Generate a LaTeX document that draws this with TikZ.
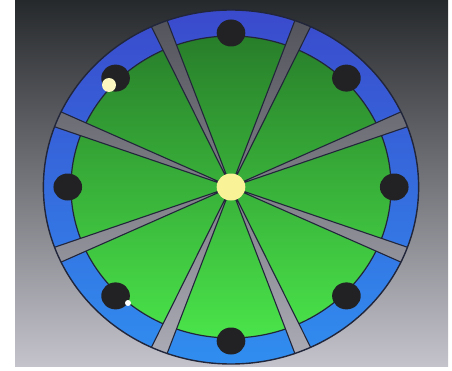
\documentclass[tikz,border=0pt]{standalone}
\definecolor{bgtop}{RGB}{38,41,44}
\definecolor{bgbottom}{RGB}{196,195,204}
\definecolor{ringtop}{RGB}{58,74,204}
\definecolor{ringbottom}{RGB}{48,142,240}
\definecolor{facetop}{RGB}{40,126,42}
\definecolor{facebottom}{RGB}{74,228,74}
\definecolor{spoketop}{RGB}{84,84,92}
\definecolor{spokebottom}{RGB}{170,170,180}
\definecolor{edge}{RGB}{34,38,58}
\definecolor{marble}{RGB}{34,34,36}
\definecolor{hub}{RGB}{250,242,150}
\begin{document}
\begin{tikzpicture}[x=1pt, y=1pt]
    \useasboundingbox (0,0) rectangle (452,370);
    \fill[white] (0,0) rectangle (452,370);
    % screen background
    \shade[top color=bgtop, bottom color=bgbottom] (15,4) rectangle (448,370);
    \begin{scope}[shift={(231,183)}, xscale=1.06]
        % blue rim
        \shade[top color=ringtop, bottom color=ringbottom] (0,0) circle(177);
        % green face
        \shade[top color=facetop, bottom color=facebottom, draw=edge, line width=1.2]
            (0,0) circle(151);
        % gray spokes between the 8 sectors
        \shade[top color=spoketop, bottom color=spokebottom]
            \foreach \a in {22.5,67.5,...,337.5} {
                (0,0) -- (\a-2.6:177) arc[start angle=\a-2.6, end angle=\a+2.6, radius=177] -- cycle};
        \draw[edge, line width=1.1]
            \foreach \a in {22.5,67.5,...,337.5} {
                (0,0) -- (\a-2.6:177) (0,0) -- (\a+2.6:177)};
        % outer edge
        \draw[edge, line width=1.4] (0,0) circle(177);
        % dark marbles, one per sector
        \foreach \a in {0,45,...,315}
            \fill[marble] (\a:154) circle(13.5);
        % hub
        \fill[hub] (0,0) circle(13.5);
    \end{scope}
    % light spots on two marbles
    \fill[hub!60!white] (109,285) circle(7);
    \fill[white] (128,67) circle(3);
\end{tikzpicture}
\end{document}
